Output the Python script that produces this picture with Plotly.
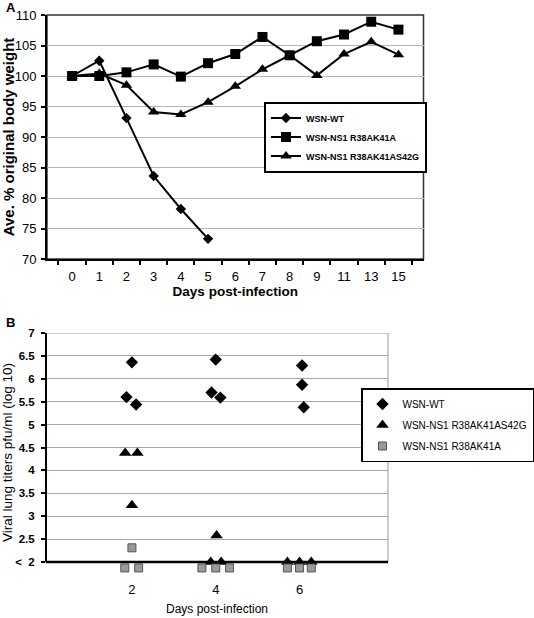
import plotly.graph_objects as go

# ---------------- Panel A data (body weight) ----------------
days_a = ["0", "1", "2", "3", "4", "5", "6", "7", "8", "9", "11", "13", "15"]
wt_a = [100, 102.5, 93.1, 83.6, 78.2, 73.3]
r38_a = [100, 100, 100.6, 101.9, 99.9, 102.1, 103.6, 106.4, 103.4, 105.7, 106.8, 108.9, 107.6]
r38s_a = [100, 100.4, 98.5, 94.1, 93.7, 95.7, 98.3, 101.1, 103.4, 100.1, 103.6, 105.6, 103.5]
names_a = ["WSN-WT", "WSN-NS1 R38AK41A", "WSN-NS1 R38AK41AS42G"]
yticks_a = [70, 75, 80, 85, 90, 95, 100, 105, 110]

# ---------------- Panel B data (lung titers) ----------------
wt_b_x = [2.0, 1.87, 2.1, 4.0, 3.9, 4.11, 6.06, 6.06, 6.1]
wt_b_y = [6.36, 5.6, 5.44, 6.42, 5.7, 5.59, 6.29, 5.87, 5.38]
tri_b_x = [1.84, 2.13, 2.0, 4.02, 3.88, 4.13, 5.71, 6.0, 6.28]
tri_b_y = [4.38, 4.38, 3.24, 2.58, 2.0, 2.0, 2.0, 2.0, 2.0]
sq_b_x = [2.0, 1.83, 2.16, 3.67, 4.0, 4.33, 5.71, 6.0, 6.28]
sq_b_y = [2.31, 1.87, 1.87, 1.87, 1.87, 1.87, 1.87, 1.87, 1.87]
names_b = ["WSN-WT", "WSN-NS1 R38AK41AS42G", "WSN-NS1 R38AK41A"]
xticks_b = [2, 4, 6]
yticks_b = [2, 2.5, 3, 3.5, 4, 4.5, 5, 5.5, 6, 6.5, 7]
yticktext_b = ["<  2", "2.5", "3", "3.5", "4", "4.5", "5", "5.5", "6", "6.5", "7"]
ymin_b, ymax_b, ylow_b = 2, 7, 1.78   # detection limit axis at 2; room below for "<2" marks

FONT = "Arial, 'Liberation Sans', sans-serif"
W, H = 534, 618

# pixel geometry of panel B (2 -> 562 px, 7 -> 333 px)
px_per_unit_b = (562 - 333) / (ymax_b - ymin_b)
b_bottom_px = 562 + (ymin_b - ylow_b) * px_per_unit_b

fig = go.Figure()

# Panel A traces
line_style = dict(color="black", width=2)
fig.add_trace(go.Scatter(x=days_a[:len(wt_a)], y=wt_a, name=names_a[0], mode="lines+markers",
                         line=line_style, marker=dict(symbol="diamond", size=8, color="black"),
                         xaxis="x", yaxis="y", legend="legend", cliponaxis=False))
fig.add_trace(go.Scatter(x=days_a, y=r38_a, name=names_a[1], mode="lines+markers",
                         line=line_style, marker=dict(symbol="square", size=10, color="black"),
                         xaxis="x", yaxis="y", legend="legend", cliponaxis=False))
fig.add_trace(go.Scatter(x=days_a, y=r38s_a, name=names_a[2], mode="lines+markers",
                         line=line_style, marker=dict(symbol="triangle-up", size=10, color="black"),
                         xaxis="x", yaxis="y", legend="legend", cliponaxis=False))

# Panel B traces
fig.add_trace(go.Scatter(x=wt_b_x, y=wt_b_y, name=names_b[0], mode="markers",
                         marker=dict(symbol="diamond", size=9.5, color="black"),
                         xaxis="x2", yaxis="y2", legend="legend2", legendgroup="b1", cliponaxis=False))
fig.add_trace(go.Scatter(x=tri_b_x, y=tri_b_y, name=names_b[1], mode="markers",
                         marker=dict(symbol="triangle-up", size=11, color="black"),
                         xaxis="x2", yaxis="y2", legend="legend2", legendgroup="b2", cliponaxis=False))
fig.add_trace(go.Scatter(x=sq_b_x, y=sq_b_y, name=names_b[2], mode="markers",
                         marker=dict(symbol="square", size=8, color="#9a9a9a",
                                     line=dict(color="#555555", width=1)),
                         xaxis="x2", yaxis="y2", legend="legend2", legendgroup="b3", cliponaxis=False))

fig.update_layout(
    width=W, height=H,
    template="none",
    margin=dict(l=0, r=0, t=0, b=0),
    paper_bgcolor="white", plot_bgcolor="white",
    font=dict(family=FONT, color="black", size=12),
    showlegend=True,
    xaxis=dict(
        domain=[47 / W, 423.5 / W], anchor="y", type="category",
        categoryorder="array", categoryarray=days_a,
        tickson="boundaries", ticks="outside", ticklen=4, tickwidth=1.5, tickcolor="black",
        showline=True, linecolor="black", linewidth=2, showgrid=False, zeroline=False,
        tickfont=dict(size=13, family=FONT), ticklabelstandoff=4,
        title=dict(text="Days post-infection", font=dict(size=13.5, weight="bold"), standoff=3),
        automargin=False,
    ),
    yaxis=dict(
        domain=[1 - 259 / H, 1 - 15 / H], anchor="x", range=[70, 110],
        tickvals=yticks_a, ticks="outside", ticklen=4, tickwidth=1.5, tickcolor="black",
        showline=True, linecolor="black", linewidth=2, showgrid=True,
        gridcolor="#b4b4b4", gridwidth=1, zeroline=False,
        tickfont=dict(size=13), ticklabelstandoff=2,
        title=dict(text="Ave. % original body weight", font=dict(size=15, weight="bold"), standoff=6),
        automargin=False,
    ),
    xaxis2=dict(
        domain=[46 / W, 388 / W], anchor="y2", range=[-0.05, 8.11],
        tickvals=xticks_b, ticks="", showline=False,
        showgrid=False, zeroline=False, tickfont=dict(size=13), ticklabelstandoff=8,
        title=dict(text="Days post-infection", font=dict(size=12), standoff=8),
        automargin=False,
    ),
    yaxis2=dict(
        domain=[1 - b_bottom_px / H, 1 - 333 / H], anchor="x2", range=[ylow_b, ymax_b],
        tickvals=yticks_b, ticktext=yticktext_b, ticks="outside", ticklen=4, tickwidth=1.5,
        tickcolor="black", showline=False,
        showgrid=True, gridcolor="#a8a8a8", gridwidth=1, zeroline=False,
        tickfont=dict(size=11.5, weight="bold"), ticklabelstandoff=4,
        title=dict(text="Viral lung titers pfu/ml (log 10)", font=dict(size=13.5), standoff=4),
        automargin=False,
    ),
    legend=dict(
        x=264 / W, xanchor="left", y=1 - 137 / H, yanchor="middle",
        bordercolor="black", borderwidth=2, bgcolor="white",
        font=dict(size=9, weight="bold"), tracegroupgap=0,
    ),
    legend2=dict(
        x=1.0, xanchor="right", y=1 - 425 / H, yanchor="middle",
        bordercolor="black", borderwidth=1.5, bgcolor="white",
        font=dict(size=10), tracegroupgap=2,
    ),
    shapes=[
        # panel A frame
        dict(type="rect", xref="x domain", yref="y domain", x0=0, x1=1, y0=0, y1=1,
             line=dict(color="#333333", width=1.5), layer="below"),
        # panel B frame (top/right in grey) from the detection limit up to 7
        dict(type="rect", xref="x2 domain", yref="y2", x0=0, x1=1, y0=ymin_b, y1=ymax_b,
             line=dict(color="#999999", width=1), layer="below"),
        # panel B left axis
        dict(type="line", xref="x2 domain", yref="y2", x0=0, x1=0, y0=ymin_b, y1=ymax_b,
             line=dict(color="black", width=2), layer="above"),
        # panel B bottom axis at detection limit
        dict(type="line", xref="x2 domain", yref="y2", x0=0, x1=1, y0=ymin_b, y1=ymin_b,
             line=dict(color="black", width=2.5), layer="above"),
    ],
    annotations=[
        dict(text="<b>A</b>", xref="paper", yref="paper", x=4 / W, y=1 - 8 / H,
             xanchor="left", yanchor="middle", showarrow=False, font=dict(size=13)),
        dict(text="<b>B</b>", xref="paper", yref="paper", x=4 / W, y=1 - 322 / H,
             xanchor="left", yanchor="middle", showarrow=False, font=dict(size=13)),
    ],
)

fig.write_html("out.html", config={"displayModeBar": False},
               post_script="document.body.style.margin='0';")
